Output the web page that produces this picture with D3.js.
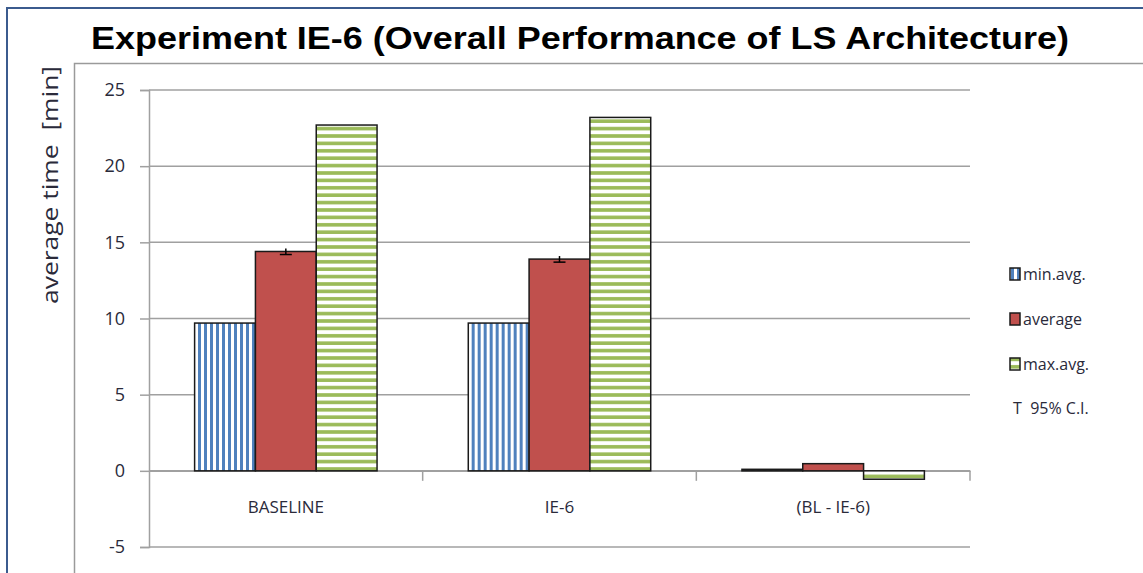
<!DOCTYPE html>
<html>
<head>
<meta charset="utf-8">
<script src="https://cdn.jsdelivr.net/npm/d3@7"></script>
<style>
  body { margin: 0; background: #fff; }
  text { font-family: "Open Sans", "DejaVu Sans", sans-serif; }
</style>
</head>
<body>
<div class="chart"></div>
<script>
// chart data
var categories = ["BASELINE", "IE-6", "(BL - IE-6)"];
var seriesNames = ["min.avg.", "average", "max.avg."];
var minAvg = [9.7, 9.7, 0.1];
var average = [14.4, 13.9, 0.47];
var maxAvg = [22.7, 23.2, -0.55];
var averageCI = [0.2, 0.2, 0];
var yTicks = [-5, 0, 5, 10, 15, 20, 25];

var svgWidth = 1143;
var svgHeight = 573;

// plot area
var plot = { left: 149, right: 970, top: 90, bottom: 547 };

var svg = d3.select(".chart")
    .append("svg")
    .attr("width", svgWidth)
    .attr("height", svgHeight);

// patterns for the striped bars
var defs = svg.append("defs");
var pBlue = defs.append("pattern")
    .attr("id", "vstripe")
    .attr("patternUnits", "userSpaceOnUse")
    .attr("width", 6).attr("height", 6);
pBlue.append("rect").attr("width", 6).attr("height", 6).attr("fill", "#fff");
pBlue.append("rect").attr("x", 1).attr("width", 3).attr("height", 6).attr("fill", "#4f81bd");

var pGreen = defs.append("pattern")
    .attr("id", "hstripe")
    .attr("patternUnits", "userSpaceOnUse")
    .attr("width", 7.4).attr("height", 7.4);
pGreen.append("rect").attr("width", 7.4).attr("height", 7.4).attr("fill", "#fff");
pGreen.append("rect").attr("y", 1).attr("width", 7.4).attr("height", 3.6).attr("fill", "#9bbb59");

var fills = ["url(#vstripe)", "#c0504d", "url(#hstripe)"];

// outer frame and chart area frame
svg.append("rect")
    .attr("x", 7).attr("y", 8)
    .attr("width", svgWidth).attr("height", svgHeight)
    .attr("fill", "none")
    .attr("stroke", "#3b5b8e")
    .attr("stroke-width", 2);

svg.append("rect")
    .attr("x", 74.5).attr("y", 63.5)
    .attr("width", svgWidth).attr("height", svgHeight)
    .attr("fill", "none")
    .attr("stroke", "#9a9a9a")
    .attr("stroke-width", 1.5);

// title
svg.append("text")
    .attr("x", 580)
    .attr("y", 49)
    .attr("text-anchor", "middle")
    .attr("textLength", 978)
    .attr("lengthAdjust", "spacingAndGlyphs")
    .style("font-family", "'Liberation Sans', Arial, sans-serif")
    .style("font-weight", "bold")
    .style("font-size", "32px")
    .text("Experiment IE-6 (Overall Performance of LS Architecture)");

// scales
var yScale = d3.scaleLinear()
    .domain([-5, 25])
    .range([plot.bottom, plot.top]);

var x0 = d3.scaleBand()
    .domain(categories)
    .range([plot.left, plot.right]);

var gap = x0.bandwidth() * 1.5 / 4.5;
var x1 = d3.scaleBand()
    .domain(seriesNames)
    .range([gap / 2, x0.bandwidth() - gap / 2]);

// gridlines
svg.append("g")
    .selectAll("line")
    .data(yTicks)
    .enter()
    .append("line")
    .attr("x1", plot.left)
    .attr("x2", plot.right)
    .attr("y1", d => yScale(d))
    .attr("y2", d => yScale(d))
    .attr("stroke", "#a0a0a0")
    .attr("stroke-width", 1.5);

// y axis
var leftAxis = d3.axisLeft(yScale)
    .tickValues(yTicks)
    .tickFormat(d => String(d))
    .tickSize(9)
    .tickPadding(15);

var yAxisG = svg.append("g")
    .attr("transform", `translate(${plot.left}, 0)`)
    .call(leftAxis);
yAxisG.select(".domain").attr("stroke", "#a0a0a0").attr("stroke-width", 1.5);
yAxisG.selectAll(".tick line").attr("stroke", "#a0a0a0").attr("stroke-width", 1.5);
yAxisG.selectAll(".tick text")
    .style("font-size", "18px")
    .attr("fill", "#2a2a3a");

// category axis along zero
var bottomAxis = d3.axisBottom(x0).tickSize(0).tickPadding(30);
var xAxisG = svg.append("g")
    .attr("transform", `translate(0, ${yScale(0)})`)
    .call(bottomAxis);
xAxisG.select(".domain").attr("stroke", "#a0a0a0").attr("stroke-width", 1.5);
xAxisG.selectAll(".tick text")
    .style("font-size", "17px")
    .attr("fill", "#2a2a3a");

// category boundary ticks
var bounds = [plot.left + x0.bandwidth(), plot.left + 2 * x0.bandwidth(), plot.right];
svg.append("g")
    .selectAll("line")
    .data(bounds)
    .enter()
    .append("line")
    .attr("x1", d => d).attr("x2", d => d)
    .attr("y1", yScale(0))
    .attr("y2", yScale(0) + 10)
    .attr("stroke", "#a0a0a0")
    .attr("stroke-width", 1.5);

// bars
var rows = categories.map(function(c, i) {
    return { cat: c, vals: [minAvg[i], average[i], maxAvg[i]], ci: averageCI[i] };
});

var groups = svg.append("g")
    .selectAll("g")
    .data(rows)
    .enter()
    .append("g")
    .attr("transform", d => `translate(${x0(d.cat)}, 0)`);

groups.selectAll("rect")
    .data(d => d.vals.map((v, j) => ({ name: seriesNames[j], value: v, j: j })))
    .enter()
    .append("rect")
    .attr("x", d => x1(d.name))
    .attr("y", d => yScale(Math.max(0, d.value)))
    .attr("width", x1.bandwidth())
    .attr("height", d => Math.abs(yScale(d.value) - yScale(0)))
    .attr("fill", d => fills[d.j])
    .attr("stroke", "#1a1a1a")
    .attr("stroke-width", 1.5);

// error bars on the average series
var errs = groups.filter(d => d.ci > 0).append("g")
    .attr("stroke", "#000")
    .attr("stroke-width", 1.5);
errs.append("line")
    .attr("x1", x1("average") + x1.bandwidth() / 2)
    .attr("x2", x1("average") + x1.bandwidth() / 2)
    .attr("y1", d => yScale(d.vals[1] + d.ci))
    .attr("y2", d => yScale(d.vals[1] - d.ci));
errs.append("line")
    .attr("x1", x1("average") + x1.bandwidth() / 2 - 6)
    .attr("x2", x1("average") + x1.bandwidth() / 2 + 6)
    .attr("y1", d => yScale(d.vals[1] - d.ci))
    .attr("y2", d => yScale(d.vals[1] - d.ci));

// y axis title
svg.append("text")
    .attr("transform", "translate(58, 185) rotate(-90)")
    .attr("text-anchor", "middle")
    .attr("textLength", 238)
    .attr("lengthAdjust", "spacingAndGlyphs")
    .style("font-size", "22px")
    .attr("fill", "#2a2a3a")
    .attr("xml:space", "preserve")
    .text("average time  [min]");

// legend
var legend = svg.append("g")
    .attr("transform", "translate(1010, 274)");

var items = legend.selectAll("g")
    .data(seriesNames)
    .enter()
    .append("g")
    .attr("transform", (d, i) => `translate(0, ${i * 45})`);

items.append("rect")
    .attr("x", 0).attr("y", -6)
    .attr("width", 10).attr("height", 12)
    .attr("fill", (d, i) => fills[i])
    .attr("stroke", "#1a1a1a")
    .attr("stroke-width", 1.5);

items.append("text")
    .attr("x", 13)
    .attr("y", 6)
    .style("font-size", "16px")
    .attr("fill", "#2a2a3a")
    .text(d => d);

legend.append("text")
    .attr("x", 3)
    .attr("y", 140)
    .style("font-size", "16px")
    .attr("fill", "#2a2a3a")
    .attr("xml:space", "preserve")
    .text("T  95% C.I.");
</script>
</body>
</html>
